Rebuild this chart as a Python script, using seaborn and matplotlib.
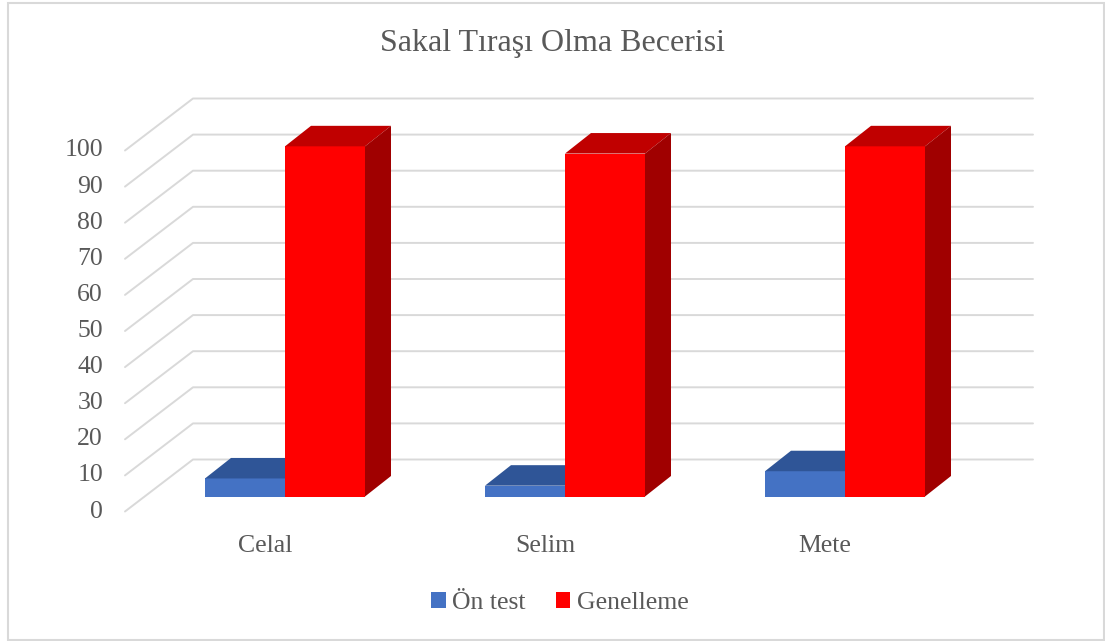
import numpy as np
import pandas as pd
import seaborn as sns
import matplotlib
matplotlib.use("Agg")
import matplotlib.pyplot as plt
from matplotlib.patches import Polygon, Rectangle
from matplotlib.lines import Line2D
from matplotlib.transforms import IdentityTransform

# ---- data ----
categories = ["Celal", "Selim", "Mete"]
series_names = ["Ön test", "Genelleme"]
on_test = [5, 3, 7]
genelleme = [97, 95, 97]
yticks = [0, 10, 20, 30, 40, 50, 60, 70, 80, 90, 100]
title = "Sakal Tıraşı Olma Becerisi"

front_colors = ["#4472C4", "#FF0000"]
top_colors = ["#2F5597", "#C00000"]
side_colors = ["#284A85", "#A00000"]

df = pd.DataFrame({
    "Kişi": categories * 2,
    "Değer": on_test + genelleme,
    "Seri": [series_names[0]] * len(categories) + [series_names[1]] * len(categories),
})

W, H = 1105, 641
sns.set_theme(style="white")
plt.rcParams["font.family"] = ["Liberation Serif", "DejaVu Serif"]

fig = plt.figure(figsize=(W / 100, H / 100), dpi=100)
fig.patch.set_facecolor("white")
ax = fig.add_axes([145 / W, 1 - 496.5 / H, 840 / W, 361 / H])

sns.barplot(data=df, x="Kişi", y="Değer", hue="Seri", hue_order=series_names,
            order=categories, palette=front_colors, width=160 / 280,
            saturation=1, errorbar=None, linewidth=0, ax=ax, legend=True)
ax.set_xlim(-0.5, len(categories) - 0.5)
ax.set_ylim(0, 100)
ax.axis("off")

T = ax.transData
F = np.array([-20.0, -15.0])   # front plane offset (px)
B = np.array([48.0, 37.0])     # back wall offset (px)
D = np.array([26.0, 20.5])     # bar depth (px)
xl, xr = ax.get_xlim()

grid_c = "#D9D9D9"
text_c = "#595959"
for v in yticks:
    pl = T.transform((xl, v))
    pr = T.transform((xr, v))
    pts = np.array([pl + F, pl + B, pr + B])
    ax.add_line(Line2D(pts[:, 0], pts[:, 1], transform=IdentityTransform(),
                       color=grid_c, lw=1.4, zorder=1, clip_on=False))
    lp = pl + F
    ax.text(lp[0] - 22, lp[1], str(v), transform=IdentityTransform(),
            ha="right", va="center", fontsize=18.5, color=text_c)

for i, c in enumerate(categories):
    p = T.transform((i, 0)) + F
    ax.text(p[0], p[1] - 34, c, transform=IdentityTransform(),
            ha="center", va="center", fontsize=18.5, color=text_c)

for s, cont in enumerate(ax.containers):
    for bar in cont:
        bar.set_zorder(3 + s)
        x0 = bar.get_x()
        w = bar.get_width()
        h = bar.get_height()
        a = T.transform((x0, h))
        b = T.transform((x0 + w, h))
        cc = T.transform((x0 + w, 0))
        top = Polygon([a, b, b + D, a + D], closed=True, transform=IdentityTransform(),
                      facecolor=top_colors[s], edgecolor="none", zorder=3 + s + 0.1, clip_on=False)
        side = Polygon([b, cc, cc + D, b + D], closed=True, transform=IdentityTransform(),
                       facecolor=side_colors[s], edgecolor="none", zorder=3 + s + 0.1, clip_on=False)
        ax.add_patch(top)
        ax.add_patch(side)
        bar.set_clip_on(False)

sns.move_legend(ax, loc="center", bbox_to_anchor=(560 / W, 1 - 603 / H),
                bbox_transform=fig.transFigure, ncol=2, frameon=False, title=None,
                fontsize=18.5, handlelength=0.55, handleheight=0.55,
                handletextpad=0.25, columnspacing=1.2)
for t in ax.get_legend().get_texts():
    t.set_color(text_c)

fig.text(553 / W, 1 - 44 / H, title, ha="center", va="center", fontsize=23, color=text_c)

fig.add_artist(Rectangle((8 / W, 1.5 / H), (1104 - 8) / W, (639 - 2) / H,
                         transform=fig.transFigure, fill=False, ec="#D9D9D9", lw=1.5))

fig.savefig("out.png", dpi=100, facecolor="white")
